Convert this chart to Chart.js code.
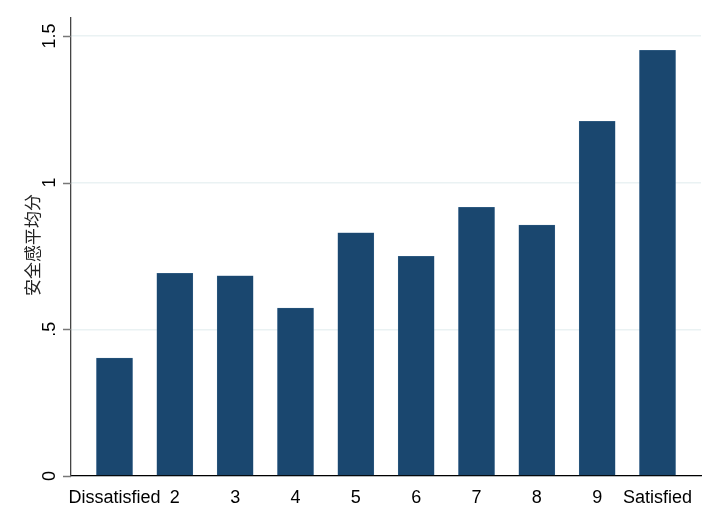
<!DOCTYPE html>
<html>
<head>
<meta charset="utf-8">
<script src="https://cdn.jsdelivr.net/npm/chart.js@4"></script>
<style>
html,body{margin:0;padding:0;background:#fff;}
#wrap{width:720px;height:524px;}
</style>
</head>
<body>
<div id="wrap"><canvas id="c" width="720" height="524"></canvas></div>
<script>
const categories = ['Dissatisfied','2','3','4','5','6','7','8','9','Satisfied'];
const meanSecurity = [0.402, 0.691, 0.682, 0.572, 0.829, 0.749, 0.916, 0.855, 1.209, 1.451];
const yTickValues = [0, 0.5, 1, 1.5];
const yTickLabels = ['0', '.5', '1', '1.5'];
const yTitle = '安全感平均分';

const customText = {
  id: 'customText',
  afterDraw(chart) {
    const ctx = chart.ctx;
    const y = chart.scales.y;
    const left = chart.chartArea.left;
    ctx.save();
    ctx.strokeStyle = '#777';
    ctx.lineWidth = 1.5;
    yTickValues.forEach((v) => {
      const py = Math.round(y.getPixelForValue(v)) + 0.5;
      ctx.beginPath();
      ctx.moveTo(left - 8, py);
      ctx.lineTo(left, py);
      ctx.stroke();
    });
    ctx.fillStyle = '#000';
    ctx.font = '18px "Liberation Sans", Arial, sans-serif';
    ctx.textAlign = 'center';
    ctx.textBaseline = 'middle';
    yTickValues.forEach((v, i) => {
      const py = y.getPixelForValue(v);
      ctx.save();
      ctx.translate(50, py);
      ctx.rotate(-Math.PI / 2);
      ctx.fillText(yTickLabels[i], 0, 0);
      ctx.restore();
    });
    const cy = (chart.chartArea.top + chart.chartArea.bottom) / 2 - 2;
    ctx.font = '17px "Noto Sans CJK SC", sans-serif';
    ctx.fillStyle = '#222';
    ctx.translate(33, cy);
    ctx.rotate(-Math.PI / 2);
    ctx.fillText(yTitle, 0, 0);
    ctx.restore();
  }
};

new Chart(document.getElementById('c'), {
  type: 'bar',
  data: {
    datasets: [{
      data: meanSecurity.map((v, i) => ({ x: i + 1, y: v })),
      backgroundColor: '#1a476f',
      borderColor: '#3e6a91',
      borderWidth: 0.5,
      barThickness: 36
    }]
  },
  options: {
    responsive: false,
    animation: false,
    devicePixelRatio: 1,
    layout: { padding: { top: 18, right: 19, left: 0, bottom: 0 } },
    plugins: { legend: { display: false }, tooltip: { enabled: false } },
    scales: {
      x: {
        type: 'linear',
        offset: false,
        min: 0.279,
        max: 10.721,
        afterBuildTicks: (s) => { s.ticks = categories.map((c, i) => ({ value: i + 1 })); },
        afterFit: (s) => { s.height = 48; },
        grid: { display: false },
        border: { display: true, color: '#000', width: 1.2 },
        ticks: {
          autoSkip: false,
          maxRotation: 0,
          minRotation: 0,
          padding: 3,
          color: '#000',
          font: { family: '"Liberation Sans", Arial, sans-serif', size: 18 },
          callback: (v) => categories[Math.round(v) - 1]
        }
      },
      y: {
        min: 0,
        max: 1.561,
        afterBuildTicks: (s) => { s.ticks = yTickValues.map(v => ({ value: v })); },
        afterFit: (s) => { s.width = 71; },
        grid: { color: '#eaf2f3', lineWidth: 1.5, drawTicks: false },
        border: { display: true, color: '#444', width: 1.3 },
        ticks: { display: false }
      }
    }
  },
  plugins: [customText]
});
</script>
</body>
</html>
